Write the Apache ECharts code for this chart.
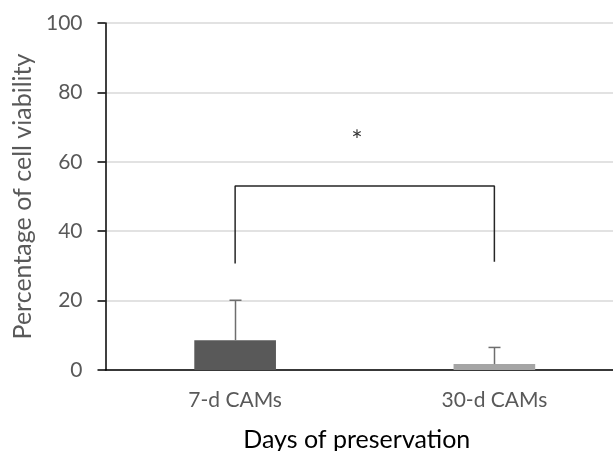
<!DOCTYPE html>
<html>
<head>
<meta charset="utf-8">
<script src="https://cdn.jsdelivr.net/npm/echarts@6/dist/echarts.min.js"></script>
<style>
  html, body { margin: 0; padding: 0; background: #fff; }
  #main { width: 613px; height: 451px; }
</style>
</head>
<body>
<div id="main"></div>
<script>
var categories = ['7-d CAMs', '30-d CAMs'];
var means = [8.6, 1.7];
var upperErr = [20.1, 6.5];
var barColors = ['#595959', '#a5a5a5'];

// significance bracket: [x, y] in bracket axis units
var bracket = [[0, 30.7], [0, 53], [1, 53], [1, 31.2]];
var star = [[0.47, 65.8]];

var yTicks = [0, 20, 40, 60, 80, 100];

var myChart = echarts.init(document.getElementById('main'));

var font = 'Lato';

option = {
    animation: false,
    grid: {
        left: 105.5,
        top: 23,
        bottom: 81,
        right: -11,
        outerBoundsMode: 'none'
    },
    xAxis: [{
        type: 'category',
        data: categories,
        name: 'Days of preservation',
        nameLocation: 'middle',
        nameGap: 57,
        nameTextStyle: { color: '#000', fontSize: 25, fontFamily: font, padding: [0, 16, 0, 0] },
        axisLine: { lineStyle: { color: '#000', width: 1.5 } },
        axisTick: { show: false },
        axisLabel: { color: '#595959', fontSize: 21, fontFamily: font, margin: 20 },
        splitLine: { show: false }
    }, {
        type: 'value',
        min: -0.5,
        max: 1.5,
        show: false
    }],
    yAxis: {
        type: 'value',
        min: yTicks[0],
        max: yTicks[yTicks.length - 1],
        interval: 20,
        name: 'Percentage of cell viability',
        nameLocation: 'middle',
        nameGap: 68,
        nameTextStyle: { color: '#595959', fontSize: 25, fontFamily: font },
        axisLine: { show: true, onZero: false, lineStyle: { color: '#000', width: 1.5 } },
        axisTick: { show: true, length: 8, lineStyle: { color: '#000', width: 1.5 } },
        axisLabel: { color: '#595959', fontSize: 21, fontFamily: font, margin: 23 },
        splitLine: { lineStyle: { color: '#d9d9d9', width: 1.5 } }
    },
    series: [{
        type: 'bar',
        data: means.map(function (v, i) {
            return { value: v, itemStyle: { color: barColors[i] } };
        }),
        barWidth: '31.5%',
        z: 2
    }, {
        type: 'custom',
        data: means.map(function (v, i) { return [i, v, upperErr[i]]; }),
        z: 3,
        renderItem: function (params, api) {
            var bottom = api.coord([api.value(0), api.value(1)]);
            var top = api.coord([api.value(0), api.value(2)]);
            var x = Math.round(bottom[0]) + 0.5;
            var style = { stroke: '#6e6e6e', lineWidth: 1.5 };
            return {
                type: 'group',
                children: [{
                    type: 'line',
                    shape: { x1: x, y1: bottom[1], x2: x, y2: top[1] },
                    style: style
                }, {
                    type: 'line',
                    shape: { x1: x - 6, y1: top[1], x2: x + 6, y2: top[1] },
                    style: style
                }]
            };
        }
    }, {
        type: 'line',
        xAxisIndex: 1,
        data: bracket,
        symbol: 'none',
        lineStyle: { color: '#262626', width: 1.5 },
        silent: true,
        z: 4
    }, {
        type: 'scatter',
        xAxisIndex: 1,
        data: star,
        symbolSize: 0,
        label: {
            show: true,
            position: 'inside',
            formatter: '*',
            color: '#000',
            fontSize: 27,
            fontFamily: font
        },
        silent: true
    }]
};

myChart.setOption(option);
</script>
</body>
</html>
